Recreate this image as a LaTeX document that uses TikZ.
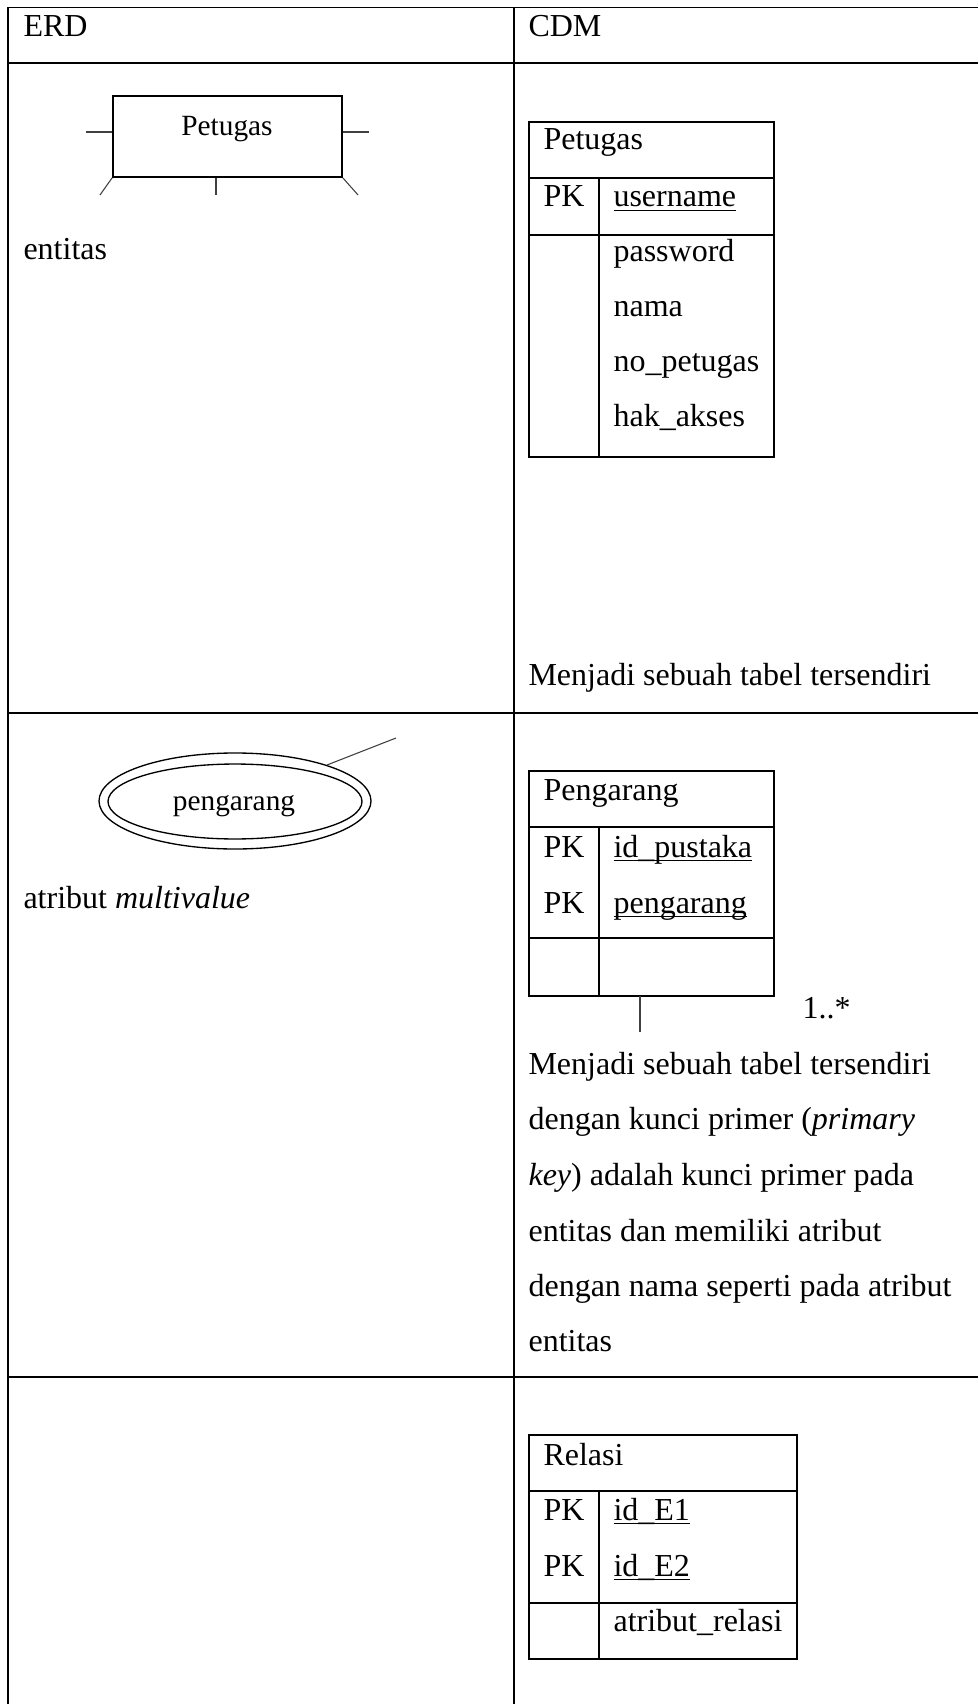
\documentclass[tikz,border=0pt]{standalone}
\usepackage{fontspec}
\setmainfont{Liberation Serif}
\usetikzlibrary{shapes.geometric}
\tikzset{
  grid/.style={line width=0.65pt},
  tbl/.style={line width=0.6pt},
  entity/.style={draw, line width=0.65pt, rectangle, inner sep=0pt, minimum width=85.9pt, minimum height=30.4pt},
  mvattr/.style={draw, line width=0.5pt, ellipse, inner sep=0pt},
  stub/.style={line width=0.4pt, black!75},
  txt/.style={anchor=base west, inner sep=0pt, font=\fontsize{12}{14}\selectfont},
  erdtxt/.style={anchor=base, inner sep=0pt, font=\fontsize{11}{13}\selectfont}
}
\newcommand{\pkey}[1]{\underline{\smash{#1}}}
\begin{document}
\begin{tikzpicture}[x=0.375pt, y=-0.375pt]
\useasboundingbox (0,0) rectangle (978,1704);
% outer grid
\draw[grid] (8,7.5) -- (978,7.5);
\draw[grid] (8,63) -- (978,63);
\draw[grid] (8,713) -- (978,713);
\draw[grid] (8,1377) -- (978,1377);
\draw[grid] (8,7.5) -- (8,1704);
\draw[grid] (514,7.5) -- (514,1704);
\node[txt] (erdHead) at (23,37) {ERD};
\node[txt] (cdmHead) at (528,37) {CDM};
% row 1: entitas
\node[entity] (petugasE) at (227.5,136.5) {};
\node[erdtxt] (petugasT) at (227,136) {Petugas};
\coordinate (stubL) at (86,132);
\coordinate (stubR) at (369,132);
\coordinate (stubBL) at (100,195);
\coordinate (stubBM) at (216,195);
\coordinate (stubBR) at (358,195);
\draw[stub] (stubL) -- (stubL -| petugasE.west);
\draw[stub] (petugasE.east |- stubR) -- (stubR);
\draw[stub] (petugasE.south west) -- (stubBL);
\draw[stub] (stubBM |- petugasE.south) -- (stubBM);
\draw[stub] (petugasE.south east) -- (stubBR);
\node[txt] (entitasT) at (23,260) {entitas};
\draw[tbl] (529,122) rectangle (774,457);
\draw[tbl] (529,178) -- (774,178);
\draw[tbl] (529,235) -- (774,235);
\draw[tbl] (599,178) -- (599,457);
\node[txt] (pTitle) at (543,150) {Petugas};
\node[txt] (pPK) at (543,207) {PK};
\node[txt] (pKey) at (613,207) {\pkey{username}};
\foreach \a [count=\i] in {password, nama, no\_petugas, hak\_akses}
  \node[txt] (pAttr\i) at (613,207+55*\i) {\a};
\node[txt] (pNote) at (528,685) {Menjadi sebuah tabel tersendiri};
% row 2: atribut multivalue
\node[mvattr, minimum width=102pt, minimum height=36pt] (pengarangO) at (235,801) {};
\node[mvattr, minimum width=95.25pt, minimum height=28.1pt] (pengarangI) at (235,801.5) {};
\node[erdtxt] (pengarangT) at (234,810) {pengarang};
\coordinate (mvEnd) at (396,738);
\draw[stub] (pengarangO) -- (mvEnd);
\node[txt] (mvT) at (23,908) {atribut \textit{multivalue}};
\draw[tbl] (529,771) rectangle (774,996);
\draw[tbl] (529,827) -- (774,827);
\draw[tbl] (529,938) -- (774,938);
\draw[tbl] (599,827) -- (599,996);
\node[txt] (gTitle) at (543,800) {Pengarang};
\node[txt] (gPK1) at (543,857) {PK};
\node[txt] (gKey1) at (613,857) {\pkey{id\_pustaka}};
\node[txt] (gPK2) at (543,913) {PK};
\node[txt] (gKey2) at (613,913) {\pkey{pengarang}};
\coordinate (gBot) at (640,996);
\coordinate (gEnd) at (640,1032);
\draw[stub] (gBot) -- (gEnd);
\node[txt] (gMult) at (802,1018) {1..*};
\node[txt] (gNote1) at (528,1074) {Menjadi sebuah tabel tersendiri};
\node[txt] (gNote2) at (528,1129) {dengan kunci primer (\textit{primary}};
\node[txt] (gNote3) at (528,1185) {\textit{key}) adalah kunci primer pada};
\node[txt] (gNote4) at (528,1241) {entitas dan memiliki atribut};
\node[txt] (gNote5) at (528,1296) {dengan nama seperti pada atribut};
\node[txt] (gNote6) at (528,1351) {entitas};
% row 3: relasi
\draw[tbl] (529,1435) rectangle (797,1659);
\draw[tbl] (529,1491) -- (797,1491);
\draw[tbl] (529,1603) -- (797,1603);
\draw[tbl] (599,1491) -- (599,1659);
\node[txt] (rTitle) at (543,1465) {Relasi};
\node[txt] (rPK1) at (543,1520) {PK};
\node[txt] (rKey1) at (613,1520) {\pkey{id\_E1}};
\node[txt] (rPK2) at (543,1576) {PK};
\node[txt] (rKey2) at (613,1576) {\pkey{id\_E2}};
\node[txt] (rAttr) at (613,1631) {atribut\_relasi};
\end{tikzpicture}
\end{document}
